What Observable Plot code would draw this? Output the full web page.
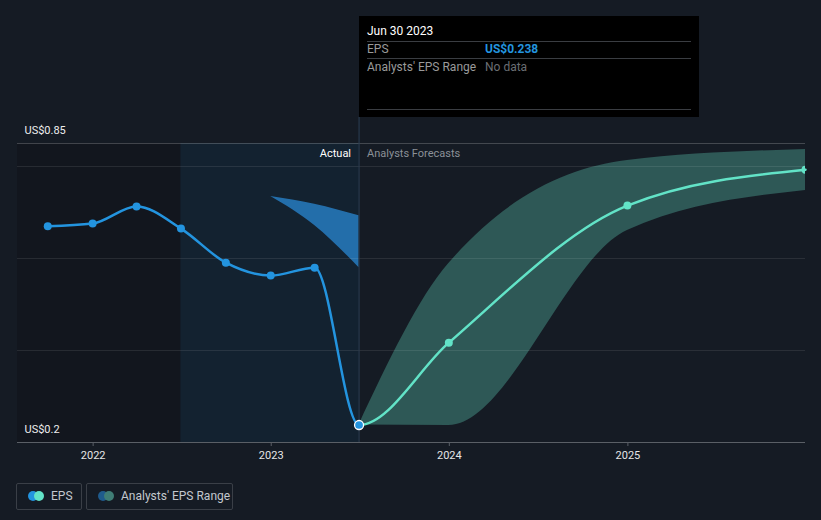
<!DOCTYPE html>
<html><head><meta charset="utf-8">
<script src="https://cdn.jsdelivr.net/npm/d3@7"></script>
<script src="https://cdn.jsdelivr.net/npm/@observablehq/plot@0.6"></script>
<style>
html,body{margin:0;padding:0;background:#151b24;}
#wrap{position:relative;width:821px;height:520px;overflow:hidden;background:#151b24;font-family:Roboto,"Noto Sans",sans-serif;}
#wrap svg{position:absolute;left:0;top:0;}
.tip{position:absolute;top:16px;height:101px;width:340px;background:#000;box-sizing:border-box;}
.tip .t{position:absolute;left:8px;top:8px;font-size:12px;color:#fff;}
.tip .hr{position:absolute;left:8px;right:8px;height:1px;background:#3a3d42;}
.tip .row{position:absolute;left:8px;font-size:12px;color:#9a9a9a;}
.tip .val{position:absolute;left:126px;font-size:12px;}
.legend{position:absolute;top:483px;height:27px;box-sizing:border-box;border:1px solid #3a3f47;border-radius:2px;font-size:12px;color:#c3c8ce;}
.legend .c{position:absolute;top:7px;width:10px;height:10px;border-radius:50%;}
.legend .lab{position:absolute;top:5px;white-space:nowrap;}
</style></head><body><div id="wrap"></div>
<script>
// ---- data ----
const actualDates = ["2021-09-30","2021-12-31","2022-03-31","2022-06-30","2022-09-30","2022-12-31","2023-03-31","2023-06-30"];
const actualEps   = [0.670, 0.676, 0.713, 0.665, 0.591, 0.563, 0.580, 0.238];
const forecastDates = ["2023-06-30","2023-12-31","2024-12-31","2025-12-31"];
const forecastEps   = [0.238, 0.417, 0.715, 0.793];
const forecastLow   = [0.238, 0.237, 0.661, 0.748];
const forecastHigh  = [0.238, 0.589, 0.813, 0.837];
const pastRangeDates = ["2022-12-31","2023-03-31","2023-06-30"];
const pastRangeLow   = [0.735, 0.672, 0.580];
const pastRangeHigh  = [0.735, 0.718, 0.693];
const yLabelValues = [0.2, 0.85];
const yLabelTexts  = ["US$0.2", "US$0.85"];
const gridValues = [0.4, 0.6, 0.8];
const xTickDates = ["2022-01-01","2023-01-01","2024-01-01","2025-01-01"];
const xTickLabels = ["2022","2023","2024","2025"];
const xDomain = ["2021-07-30","2025-12-31"];
const yDomain = [0.2, 0.85];
const todayDate = "2023-06-30";
const actualStart = "2022-06-30";
const tooltipTitle = "Jun 30 2023";
const tooltipEps = "US$0.238";

const P = d3.utcParse("%Y-%m-%d");
const actual = actualDates.map((d,i)=>({date:P(d), eps:actualEps[i]}));
const forecast = forecastDates.map((d,i)=>({date:P(d), eps:forecastEps[i], lo:forecastLow[i], hi:forecastHigh[i]}));
const allEps = actual.concat(forecast.slice(1));
const pastRange = pastRangeDates.map((d,i)=>({date:P(d), lo:pastRangeLow[i], hi:pastRangeHigh[i]}));
const regions = [
  {x1:P(xDomain[0]), x2:P(actualStart), y1:yDomain[0], y2:yDomain[1], fill:"#12161e"},
  {x1:P(actualStart), x2:P(todayDate), y1:yDomain[0], y2:yDomain[1], fill:"#132230"}
];
const today = P(todayDate);
const ticks = xTickDates.map(P);
const BLUE = "#2394df", MINT = "#62e3c7";

const plot = Plot.plot({
  width:821, height:520,
  marginLeft:17, marginRight:16, marginTop:143, marginBottom:78,
  style:{background:"transparent", color:"#e6e6e6", fontFamily:"Roboto, sans-serif", fontSize:"11px"},
  x:{type:"utc", domain:xDomain.map(P)},
  y:{type:"linear", domain:yDomain, axis:null},
  marks:[
    Plot.rect(regions, {x1:"x1", x2:"x2", y1:"y1", y2:"y2", fill:"fill"}),
    Plot.areaY(forecast, {x:"date", y1:"lo", y2:"hi", curve:"monotone-x", fill:"#2e5856"}),
    Plot.areaY(pastRange, {x:"date", y1:"lo", y2:"hi", curve:"monotone-x", fill:"#2677b8", fillOpacity:0.9}),
    Plot.ruleY(gridValues, {stroke:"#ffffff", strokeOpacity:0.09}),
    Plot.ruleY([yDomain[1]], {stroke:"#ffffff", strokeOpacity:0.2}),
    Plot.ruleX([today], {stroke:"#2a3f55", strokeWidth:1, insetTop:-26}),
    Plot.ruleY([yDomain[0]], {stroke:"#5a5f66", strokeWidth:1.2}),
    Plot.axisX({ticks:ticks, tickFormat:d=>xTickLabels[ticks.findIndex(t=>+t===+d)], tickSize:4, tickPadding:5, stroke:"#5a5f66", fill:"#e6e6e6", label:null, fontSize:11}),
    Plot.line(allEps, {x:"date", y:"eps", curve:"monotone-x", stroke:"url(#epsGrad)", strokeWidth:2.5}),
    Plot.dot(actual.slice(0,-1), {x:"date", y:"eps", r:4, fill:BLUE}),
    Plot.dot(forecast.slice(1), {x:"date", y:"eps", r:4, fill:MINT, clip:true}),
    Plot.dot(actual.slice(-1), {x:"date", y:"eps", r:4.5, fill:BLUE, stroke:"#ffffff", strokeWidth:1.3}),
    Plot.text(yLabelValues, {y:d=>d, text:(d,i)=>yLabelTexts[i], frameAnchor:"left", textAnchor:"start", dx:7, dy:-13, fill:"#eeeeee", fontSize:11}),
    Plot.text(["Actual"], {x:today, frameAnchor:"top", textAnchor:"end", dx:-8, dy:6, fill:"#ffffff", fontSize:11, text:d=>d}),
    Plot.text(["Analysts Forecasts"], {x:today, frameAnchor:"top", textAnchor:"start", dx:8, dy:6, fill:"#8b9097", fontSize:11, text:d=>d})
  ]
});
const wrap = document.getElementById("wrap");
wrap.appendChild(plot);

// gradient splitting the EPS line colour at today's x
const tx = plot.scale("x").apply(today);
const svg = d3.select(plot.tagName.toLowerCase()==="svg" ? plot : plot.querySelector("svg"));
const grad = svg.insert("defs", ":first-child").append("linearGradient")
  .attr("id","epsGrad").attr("gradientUnits","userSpaceOnUse")
  .attr("x1", tx-0.5).attr("x2", tx+0.5).attr("y1",0).attr("y2",0);
grad.append("stop").attr("offset",0).attr("stop-color",BLUE);
grad.append("stop").attr("offset",0.5).attr("stop-color",BLUE);
grad.append("stop").attr("offset",0.5).attr("stop-color",MINT);
grad.append("stop").attr("offset",1).attr("stop-color",MINT);

// tooltip anchored at today's x
const tip = document.createElement("div");
tip.className = "tip";
tip.style.left = Math.round(tx) + "px";
tip.innerHTML = `<div class="t">${tooltipTitle}</div>
<div class="hr" style="top:25px"></div>
<div class="row" style="top:26px">EPS</div><div class="val" style="top:26px;color:${BLUE};font-weight:bold">${tooltipEps}</div>
<div class="hr" style="top:42px"></div>
<div class="row" style="top:44px">Analysts' EPS Range</div><div class="val" style="top:44px;color:#6b6e73">No data</div>
<div class="hr" style="top:93px"></div>`;
wrap.appendChild(tip);

// legend
const legendItems = [
  {label:"EPS", colors:[BLUE, MINT], left:16, width:66},
  {label:"Analysts' EPS Range", colors:["#1f5b8c","#3f7d75"], left:86, width:147}
];
for (const it of legendItems) {
  const b = document.createElement("div");
  b.className = "legend";
  b.style.left = it.left + "px"; b.style.width = it.width + "px";
  b.innerHTML = `<div class="c" style="left:11px;background:${it.colors[0]}"></div><div class="c" style="left:17px;background:${it.colors[1]}"></div><div class="lab" style="left:34px">${it.label}</div>`;
  wrap.appendChild(b);
}
</script></body></html>
